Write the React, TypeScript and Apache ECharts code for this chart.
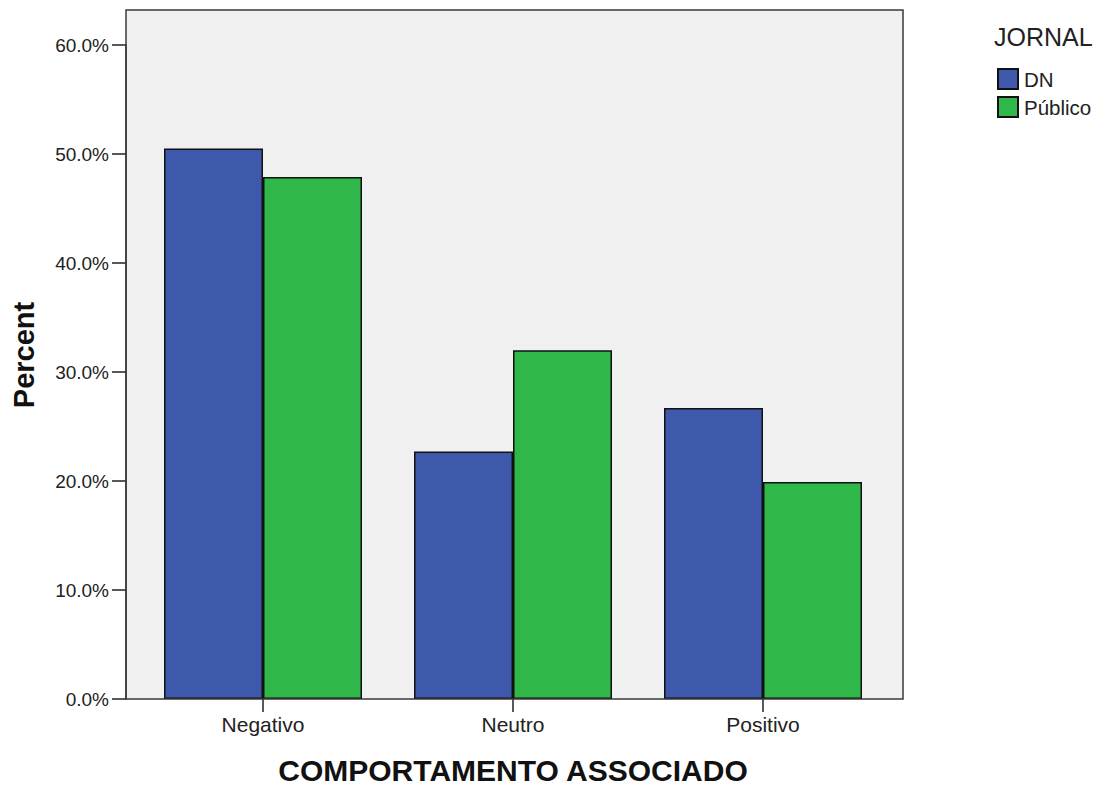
import React, { useEffect, useRef } from "react";
import * as echarts from "echarts";

const categories = ["Negativo", "Neutro", "Positivo"];
const seriesNames = ["DN", "Público"];
const dnValues = [50.5, 22.7, 26.7];
const publicoValues = [47.9, 32.0, 19.9];
const yTicks = [0, 10, 20, 30, 40, 50, 60];

const FONT = "Arial, 'Liberation Sans', sans-serif";

export default function App() {
  const ref = useRef<HTMLDivElement>(null);
  useEffect(() => {
    if (!ref.current) return;
    const chart = echarts.init(ref.current, undefined, { renderer: "svg" });
    chart.setOption({
      animation: false,
      textStyle: { fontFamily: FONT },
      graphic: [
        {
          type: "rect",
          z: -10,
          shape: { x: 126, y: 10, width: 777, height: 689 },
          style: { fill: "#f0f0f0", stroke: "none" },
        },
        {
          type: "rect",
          z: 100,
          shape: { x: 126, y: 10, width: 777, height: 689 },
          style: { fill: "none", stroke: "#3a3a3a", lineWidth: 1.5 },
        },
        {
          type: "text",
          x: 994,
          y: 37,
          style: {
            text: "JORNAL",
            fontSize: 25,
            fill: "#222",
            fontFamily: FONT,
            verticalAlign: "middle",
          },
        },
        {
          type: "text",
          x: 24,
          y: 355,
          rotation: Math.PI / 2,
          style: {
            text: "Percent",
            fontSize: 29,
            fontWeight: "bold",
            fill: "#111",
            fontFamily: FONT,
            align: "center",
            verticalAlign: "middle",
          },
        },
      ],
      legend: {
        orient: "vertical",
        left: 997,
        top: 68,
        itemWidth: 20,
        itemHeight: 20,
        itemGap: 6,
        padding: 0,
        icon: "rect",
        textStyle: { fontSize: 20.5, color: "#222", padding: [0, 0, 0, 1] },
        data: seriesNames,
      },
      grid: { left: 138, right: 216, top: 45, bottom: 94 },
      xAxis: {
        type: "category",
        data: categories,
        axisLine: { show: false },
        axisTick: { show: true, alignWithLabel: true, length: 13, lineStyle: { color: "#222", width: 1.5 } },
        axisLabel: { fontSize: 21, color: "#222", margin: 15 },
        name: "COMPORTAMENTO ASSOCIADO",
        nameLocation: "middle",
        nameGap: 56,
        nameTextStyle: { fontSize: 30, fontWeight: "bold", color: "#111" },
      },
      yAxis: {
        type: "value",
        min: 0,
        max: 60,
        interval: 10,
        offset: 12,
        splitLine: { show: false },
        axisLine: { show: true, lineStyle: { color: "#3a3a3a", width: 1.5 } },
        axisTick: { show: true, length: 14, lineStyle: { color: "#222", width: 1.5 } },
        axisLabel: {
          fontSize: 19,
          color: "#222",
          margin: 17,
          formatter: (v: number) => (yTicks.includes(v) ? v.toFixed(1) + "%" : ""),
        },
      },
      series: [
        {
          name: seriesNames[0],
          type: "bar",
          data: dnValues,
          barWidth: 99,
          barGap: "0%",
          itemStyle: { color: "#3e58ac", borderColor: "#111", borderWidth: 1.5 },
        },
        {
          name: seriesNames[1],
          type: "bar",
          data: publicoValues,
          barWidth: 99,
          barGap: "0%",
          itemStyle: { color: "#2fb74a", borderColor: "#111", borderWidth: 1.5 },
        },
      ],
    });
    return () => chart.dispose();
  }, []);
  return (
    <div
      ref={ref}
      style={{ position: "fixed", left: 0, top: 0, width: 1104, height: 793, background: "#fff" }}
    />
  );
}
